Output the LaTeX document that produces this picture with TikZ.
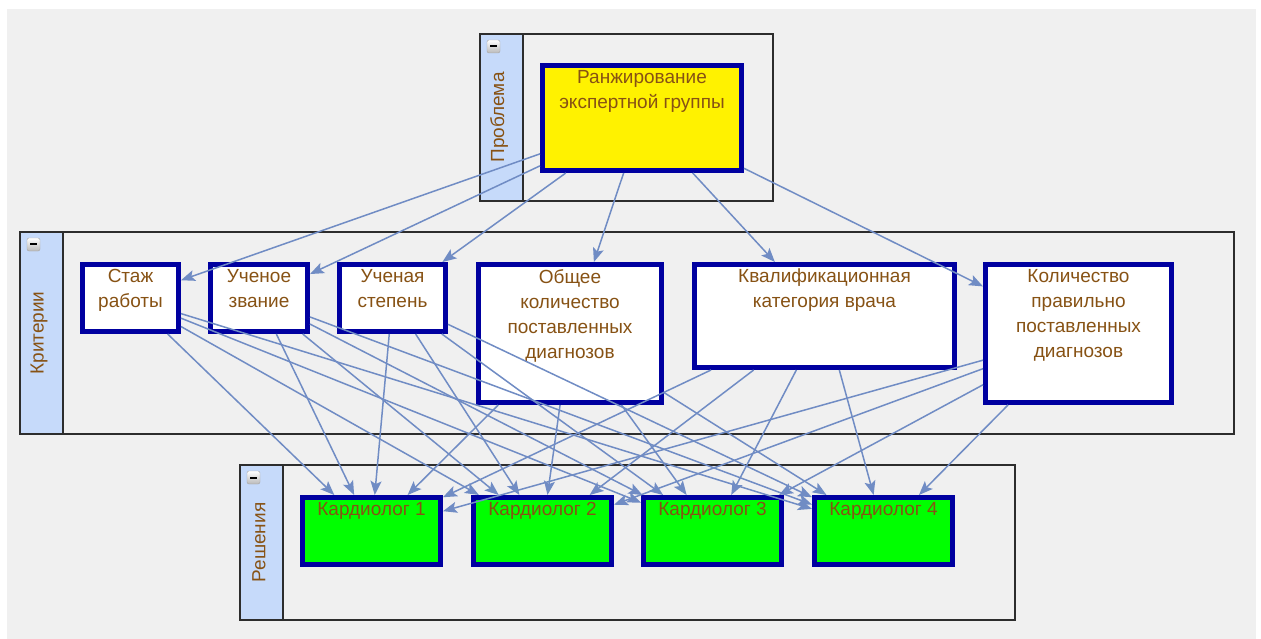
\documentclass[tikz,border=0pt]{standalone}
\usepackage{fontspec}
\setmainfont{Liberation Sans}
\usetikzlibrary{arrows.meta}
\definecolor{boxblue}{RGB}{0,0,160}
\definecolor{txtbrown}{RGB}{135,82,20}
\definecolor{arrowblue}{RGB}{112,140,196}
\definecolor{stripblue}{RGB}{198,218,250}
\definecolor{paper}{RGB}{240,240,240}
\definecolor{framegray}{RGB}{45,45,45}
\definecolor{kgreen}{RGB}{0,255,0}

\begin{document}
\begin{tikzpicture}[x=1pt,y=-1pt]
\tikzstyle{every node}+=[inner sep=0pt]
\tikzstyle{box}=[draw=boxblue, line width=5pt, rectangle]
\tikzstyle{crit}=[box, fill=white]
\tikzstyle{goal}=[box, fill=yellow]
\tikzstyle{alt}=[box, fill=kgreen]
\tikzstyle{txt}=[anchor=north, yshift=-7pt, align=center, text=txtbrown, font=\fontsize{19}{25}\selectfont]
\tikzstyle{side}=[rotate=90, text=txtbrown, font=\fontsize{19}{22}\selectfont]
\tikzstyle{strip}=[fill=stripblue, draw=framegray, line width=1.5pt]
\tikzstyle{frame}=[draw=framegray, line width=1.5pt]
\tikzstyle{link}=[draw=arrowblue, line width=1.5pt, -{Stealth[length=14pt,width=11pt,inset=3pt]}]

% page and background
\useasboundingbox (0,0) rectangle (1261,639);
\fill [white] (0,0) rectangle (1261,639);
\fill [paper] (7,9) rectangle (1256,639);

% groups
\draw [frame] (480,34) rectangle (773,201);
\draw [strip] (480,34) rectangle (523,201);
\draw [frame] (20,232) rectangle (1234,434);
\draw [strip] (20,232) rectangle (63,434);
\draw [frame] (240,465) rectangle (1015,620);
\draw [strip] (240,465) rectangle (283,620);
\foreach \gx/\gy in {480/34, 20/232, 240/465} {
  \shade [top color=white, bottom color=gray!55, draw=gray!70, rounded corners=2pt] (\gx+7,\gy+6) rectangle ++(13,13);
  \draw [line width=2pt] (\gx+10,\gy+12.5) -- ++(7,0);
}
\node [side] (problem) at (499,117.5) {Проблема};
\node [side] (criteria) at (39,333) {Критерии};
\node [side] (decisions) at (259,542.5) {Решения};

% goal
\node [goal, minimum width=199pt, minimum height=105pt, label={[txt]north:Ранжирование\\экспертной группы}] (goal) at (642,118) {};

% criteria
\node [crit, minimum width=96pt, minimum height=67pt, label={[txt]north:Стаж\\работы}] (staj) at (130.5,298) {};
\node [crit, minimum width=97pt, minimum height=67pt, label={[txt]north:Ученое\\звание}] (zvanie) at (259,298) {};
\node [crit, minimum width=106pt, minimum height=67pt, label={[txt]north:Ученая\\степень}] (stepen) at (392.5,298) {};
\node [crit, minimum width=183pt, minimum height=138pt, label={[txt]north:Общее\\количество\\поставленных\\диагнозов}] (obshee) at (570,333.5) {};
\node [crit, minimum width=260pt, minimum height=103pt, label={[txt]north:Квалификационная\\категория врача}] (kval) at (824.5,316) {};
\node [crit, minimum width=186pt, minimum height=138pt, label={[txt]north:Количество\\правильно\\поставленных\\диагнозов}] (pravil) at (1078.5,333.5) {};

% alternatives
\node [alt, minimum width=138pt, minimum height=67pt, label={[txt]north:Кардиолог 1}] (k1) at (371.5,531) {};
\node [alt, minimum width=138pt, minimum height=67pt, label={[txt]north:Кардиолог 2}] (k2) at (542.5,531) {};
\node [alt, minimum width=138pt, minimum height=67pt, label={[txt]north:Кардиолог 3}] (k3) at (712.5,531) {};
\node [alt, minimum width=138pt, minimum height=67pt, label={[txt]north:Кардиолог 4}] (k4) at (883.5,531) {};

% links
\foreach \c in {staj,zvanie,stepen,obshee,kval,pravil} {
  \draw [link] (goal) -- (\c);
  \foreach \k in {k1,k2,k3,k4}
    \draw [link] (\c) -- (\k);
}
\end{tikzpicture}
\end{document}
